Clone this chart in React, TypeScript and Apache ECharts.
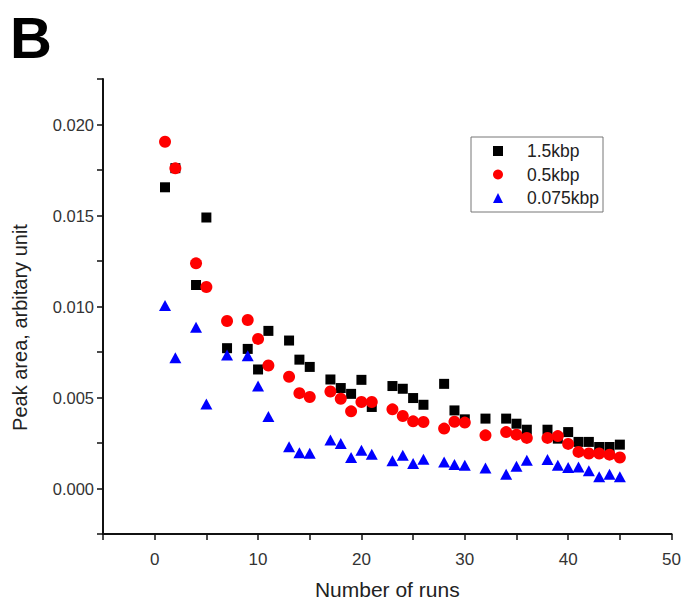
import React, { useEffect, useRef } from "react";
import * as echarts from "echarts";

const runs = [1, 2, 4, 5, 7, 9, 10, 11, 13, 14, 15, 17, 18, 19, 20, 21, 23, 24, 25, 26, 28, 29, 30, 32, 34, 35, 36, 38, 39, 40, 41, 42, 43, 44, 45];

const kbp15 = [0.01655, 0.0176, 0.01118, 0.01489, 0.00771, 0.00767, 0.00654, 0.00866, 0.00813, 0.00708, 0.00668, 0.00599, 0.00552, 0.0052, 0.00597, 0.00448, 0.00563, 0.00548, 0.00497, 0.0046, 0.00575, 0.00429, 0.0038, 0.00384, 0.00384, 0.00356, 0.00323, 0.00323, 0.00274, 0.0031, 0.00256, 0.00256, 0.00228, 0.00228, 0.00241];

const kbp05 = [0.01905, 0.01759, 0.01237, 0.01107, 0.0092, 0.00926, 0.00822, 0.00676, 0.00614, 0.00524, 0.00503, 0.00533, 0.00493, 0.00424, 0.00475, 0.00475, 0.00435, 0.00398, 0.00369, 0.00365, 0.00329, 0.00367, 0.00362, 0.00292, 0.0031, 0.00296, 0.00278, 0.00278, 0.00288, 0.00245, 0.00201, 0.00192, 0.00192, 0.00186, 0.0017];

const kbp0075 = [0.01005, 0.00718, 0.00886, 0.00464, 0.00734, 0.0073, 0.00563, 0.00395, 0.0023, 0.00197, 0.00193, 0.00267, 0.00247, 0.0017, 0.0021, 0.00188, 0.00152, 0.00183, 0.00137, 0.00161, 0.00146, 0.00132, 0.00128, 0.00113, 0.00078, 0.00122, 0.00155, 0.00159, 0.00128, 0.00115, 0.00118, 0.00097, 0.00064, 0.00078, 0.00064];

const seriesNames = ["1.5kbp", "0.5kbp", "0.075kbp"];
const xTitle = "Number of runs";
const yTitle = "Peak area, arbitary unit";
const panelLabel = "B";

const FONT = "'Liberation Sans', Arial, sans-serif";

export default function App() {
  const ref = useRef<HTMLDivElement>(null);

  useEffect(() => {
    if (!ref.current) return;
    const chart = echarts.init(ref.current, null, { renderer: "svg" });
    const pair = (ys: number[]) => runs.map((x, i) => [x, ys[i]]);
    const axisCommon = {
      axisLine: { show: true, onZero: false, lineStyle: { color: "#111", width: 2 } },
      axisTick: { show: true, length: 6, lineStyle: { color: "#111", width: 1.5 } },
      splitLine: { show: false },
    };
    chart.setOption({
      animation: false,
      backgroundColor: "#fff",
      textStyle: { fontFamily: FONT },
      graphic: [
        {
          type: "text",
          left: 10,
          top: 8,
          style: { text: panelLabel, font: `bold 58px ${FONT}`, fill: "#000" },
        },
      ],
      grid: { left: 103, right: 12, top: 79, bottom: 69 },
      legend: {
        orient: "vertical",
        left: 471,
        top: 137,
        data: seriesNames,
        itemWidth: 10,
        itemHeight: 10,
        itemGap: 5.5,
        padding: [5, 4, 5, 22],
        borderColor: "#777",
        borderWidth: 1,
        backgroundColor: "#fff",
        textStyle: { fontSize: 17.5, color: "#222", fontFamily: FONT, padding: [0, 0, 0, 19] },
      },
      xAxis: {
        type: "value",
        min: -5,
        max: 50,
        interval: 5,
        name: xTitle,
        nameLocation: "middle",
        nameGap: 45,
        nameTextStyle: { fontSize: 21, color: "#222", fontFamily: FONT },
        axisLabel: {
          fontSize: 17,
          color: "#333",
          margin: 17,
          fontFamily: FONT,
          formatter: (v: number) => (Math.abs(v % 10) < 1e-9 ? String(v) : ""),
        },
        ...axisCommon,
      },
      yAxis: {
        type: "value",
        min: -0.0025,
        max: 0.0225,
        interval: 0.0025,
        name: yTitle,
        nameLocation: "middle",
        nameGap: 73,
        nameTextStyle: { fontSize: 20, color: "#222", fontFamily: FONT, padding: [0, 42, 0, 0] },
        axisLabel: {
          fontSize: 16.5,
          color: "#333",
          margin: 9,
          fontFamily: FONT,
          formatter: (v: number) => {
            const k = Math.round(v / 0.005);
            return Math.abs(k * 0.005 - v) < 1e-9 ? v.toFixed(3) : "";
          },
        },
        ...axisCommon,
      },
      series: [
        {
          name: seriesNames[0],
          type: "scatter",
          symbol: "rect",
          symbolSize: 10,
          itemStyle: { color: "#000", opacity: 1 },
          data: pair(kbp15),
        },
        {
          name: seriesNames[1],
          type: "scatter",
          symbol: "circle",
          symbolSize: 12,
          itemStyle: { color: "#ff0000", opacity: 1 },
          data: pair(kbp05),
        },
        {
          name: seriesNames[2],
          type: "scatter",
          symbol: "triangle",
          symbolSize: [12, 11],
          itemStyle: { color: "#0000ff", opacity: 1 },
          data: pair(kbp0075),
        },
      ],
    });
    return () => chart.dispose();
  }, []);

  return (
    <div
      ref={ref}
      style={{ position: "fixed", left: 0, top: 0, width: 684, height: 605, background: "#fff" }}
    />
  );
}
